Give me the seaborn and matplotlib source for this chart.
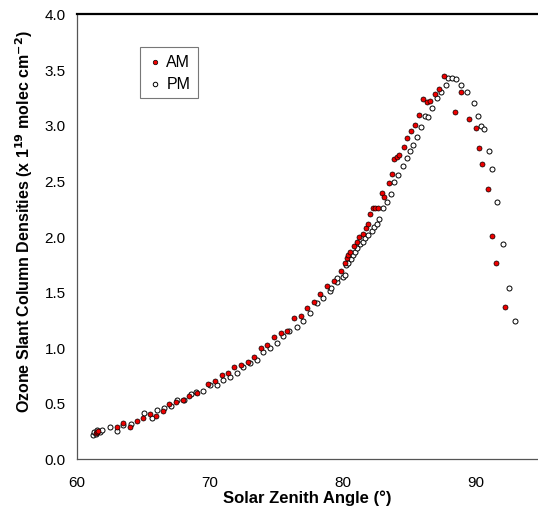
import matplotlib
matplotlib.use("Agg")
import matplotlib.pyplot as plt
import seaborn as sns
import pandas as pd

am_sza = [61.4, 61.5, 61.6, 62.99, 63.49, 63.99, 64.49, 64.94, 65.5, 65.95, 66.45, 66.95, 67.45,
          67.95, 68.46, 69.06, 69.89, 70.39, 70.9, 71.35, 71.85, 72.35, 72.85, 73.33, 73.86, 74.33,
          74.86, 75.34, 75.84, 76.34, 76.84, 77.32, 77.85, 78.32, 78.85, 79.35, 79.88, 80.18, 80.31,
          80.43, 80.56, 80.86, 81.06, 81.26, 81.51, 81.76, 81.89, 82.06, 82.26, 82.44, 82.69, 82.94,
          83.12, 83.49, 83.69, 83.89, 84.07, 84.25, 84.62, 84.87, 85.13, 85.45, 85.75, 86.03, 86.33,
          86.58, 86.96, 87.26, 87.66, 88.46, 88.9, 89.47, 90.02, 90.27, 90.52, 90.92, 91.22, 91.55,
          92.23]
am_scd = [0.23, 0.24, 0.25, 0.28, 0.32, 0.28, 0.34, 0.36, 0.40, 0.38, 0.43, 0.49, 0.51,
          0.53, 0.56, 0.59, 0.67, 0.70, 0.75, 0.77, 0.82, 0.84, 0.87, 0.91, 0.99, 1.02,
          1.09, 1.13, 1.15, 1.26, 1.28, 1.35, 1.41, 1.48, 1.55, 1.60, 1.69, 1.76, 1.80,
          1.83, 1.86, 1.91, 1.95, 1.99, 2.02, 2.07, 2.11, 2.20, 2.25, 2.25, 2.25, 2.39,
          2.35, 2.48, 2.56, 2.69, 2.71, 2.73, 2.80, 2.88, 2.95, 3.00, 3.09, 3.23, 3.21,
          3.22, 3.28, 3.32, 3.44, 3.12, 3.30, 3.05, 2.97, 2.79, 2.65, 2.42, 2.00, 1.76,
          1.36]

pm_sza = [61.2, 61.3, 61.4, 61.5, 61.7, 61.9, 62.48, 63.04, 63.49, 64.1, 65.05, 65.62, 66.05,
          66.55, 67.06, 67.55, 68.06, 68.56, 68.96, 69.51, 70.02, 70.52, 71.02, 71.52, 72.07,
          72.52, 73.03, 73.53, 74.03, 74.53, 75.04, 75.54, 75.99, 76.54, 77.04, 77.55, 78.05,
          78.55, 79.05, 79.13, 79.55, 79.6, 80.0, 80.18, 80.26, 80.43, 80.61, 80.76, 80.93,
          81.11, 81.31, 81.51, 81.69, 81.94, 82.19, 82.36, 82.57, 82.76, 83.02, 83.37, 83.62,
          83.87, 84.19, 84.52, 84.83, 85.07, 85.32, 85.62, 85.88, 86.2, 86.41, 86.75, 87.08,
          87.41, 87.76, 87.96, 88.21, 88.52, 88.92, 89.39, 89.89, 90.17, 90.42, 90.6, 91.02,
          91.27, 91.6, 92.1, 92.53, 92.98]
pm_scd = [0.21, 0.24, 0.22, 0.26, 0.24, 0.26, 0.28, 0.25, 0.30, 0.31, 0.41, 0.36, 0.44,
          0.45, 0.47, 0.53, 0.53, 0.58, 0.60, 0.61, 0.66, 0.66, 0.71, 0.73, 0.77,
          0.82, 0.86, 0.89, 0.96, 0.99, 1.04, 1.10, 1.15, 1.18, 1.24, 1.31, 1.40,
          1.44, 1.51, 1.53, 1.59, 1.62, 1.63, 1.65, 1.74, 1.76, 1.79, 1.83, 1.86,
          1.89, 1.93, 1.95, 1.98, 2.01, 2.05, 2.08, 2.11, 2.15, 2.25, 2.31, 2.38,
          2.49, 2.55, 2.63, 2.70, 2.77, 2.82, 2.89, 2.98, 3.08, 3.07, 3.15, 3.24,
          3.30, 3.36, 3.42, 3.42, 3.41, 3.36, 3.30, 3.20, 3.08, 2.99, 2.96, 2.77,
          2.60, 2.31, 1.93, 1.53, 1.24]

x_ticks = [60, 70, 80, 90]
y_ticks = [0.0, 0.5, 1.0, 1.5, 2.0, 2.5, 3.0, 3.5, 4.0]

sns.set_theme(style="white")
plt.rcParams['font.family'] = ['Liberation Sans', 'DejaVu Sans']
plt.rcParams['text.color'] = 'black'
plt.rcParams['axes.labelcolor'] = 'black'

am = pd.DataFrame({"sza": am_sza, "scd": am_scd})
pm = pd.DataFrame({"sza": pm_sza, "scd": pm_scd})

fig = plt.figure(figsize=(5.38, 5.10), dpi=100)
ax = fig.add_axes([0.143, 0.099, 0.857, 0.872])

sns.scatterplot(data=pm, x="sza", y="scd", ax=ax, s=13, color="white",
                edgecolor="black", linewidth=0.7, label="PM", zorder=2)
sns.scatterplot(data=am, x="sza", y="scd", ax=ax, s=13, color="#ee0000",
                edgecolor="black", linewidth=0.5, label="AM", zorder=3)

ax.set_xlim(60, 94.7)
ax.set_ylim(0, 4.0)
ax.set_xticks(x_ticks)
ax.set_yticks(y_ticks)
ax.set_yticklabels([f"{v:.1f}" for v in y_ticks])
ax.tick_params(direction="in", length=4, width=0.8, colors="#444444",
               labelcolor="black", labelsize=11)
ax.tick_params(axis="x", pad=12)
ax.tick_params(axis="y", pad=8)
for name, sp in ax.spines.items():
    sp.set_color("#555555")
    sp.set_linewidth(0.9)
ax.spines["right"].set_visible(False)
ax.spines["top"].set_color("black")
ax.spines["top"].set_linewidth(1.6)

ax.set_xlabel("Solar Zenith Angle (°)", fontsize=12, fontweight="bold", labelpad=0,
              color="black")
ax.set_ylabel(r"Ozone Slant Column Densities (x 1$^{\mathbf{19}}$ molec cm$^{\mathbf{-2}}$)",
              fontsize=11.5, fontweight="bold", color="black")
ax.yaxis.set_label_coords(-0.09, 0.535)

handles, labels = ax.get_legend_handles_labels()
order = [labels.index("AM"), labels.index("PM")]
leg = ax.legend([handles[i] for i in order], [labels[i] for i in order],
                loc="upper left", bbox_to_anchor=(0.137, 0.926), borderaxespad=0,
                fontsize=11.5, frameon=True, fancybox=False, handletextpad=0.2,
                handlelength=1.0, borderpad=0.45, labelspacing=0.45, markerscale=0.9)
leg.get_frame().set_edgecolor("#555555")
leg.get_frame().set_linewidth(0.8)
for t in leg.get_texts():
    t.set_color("black")

fig.savefig("out.png", dpi=100)
